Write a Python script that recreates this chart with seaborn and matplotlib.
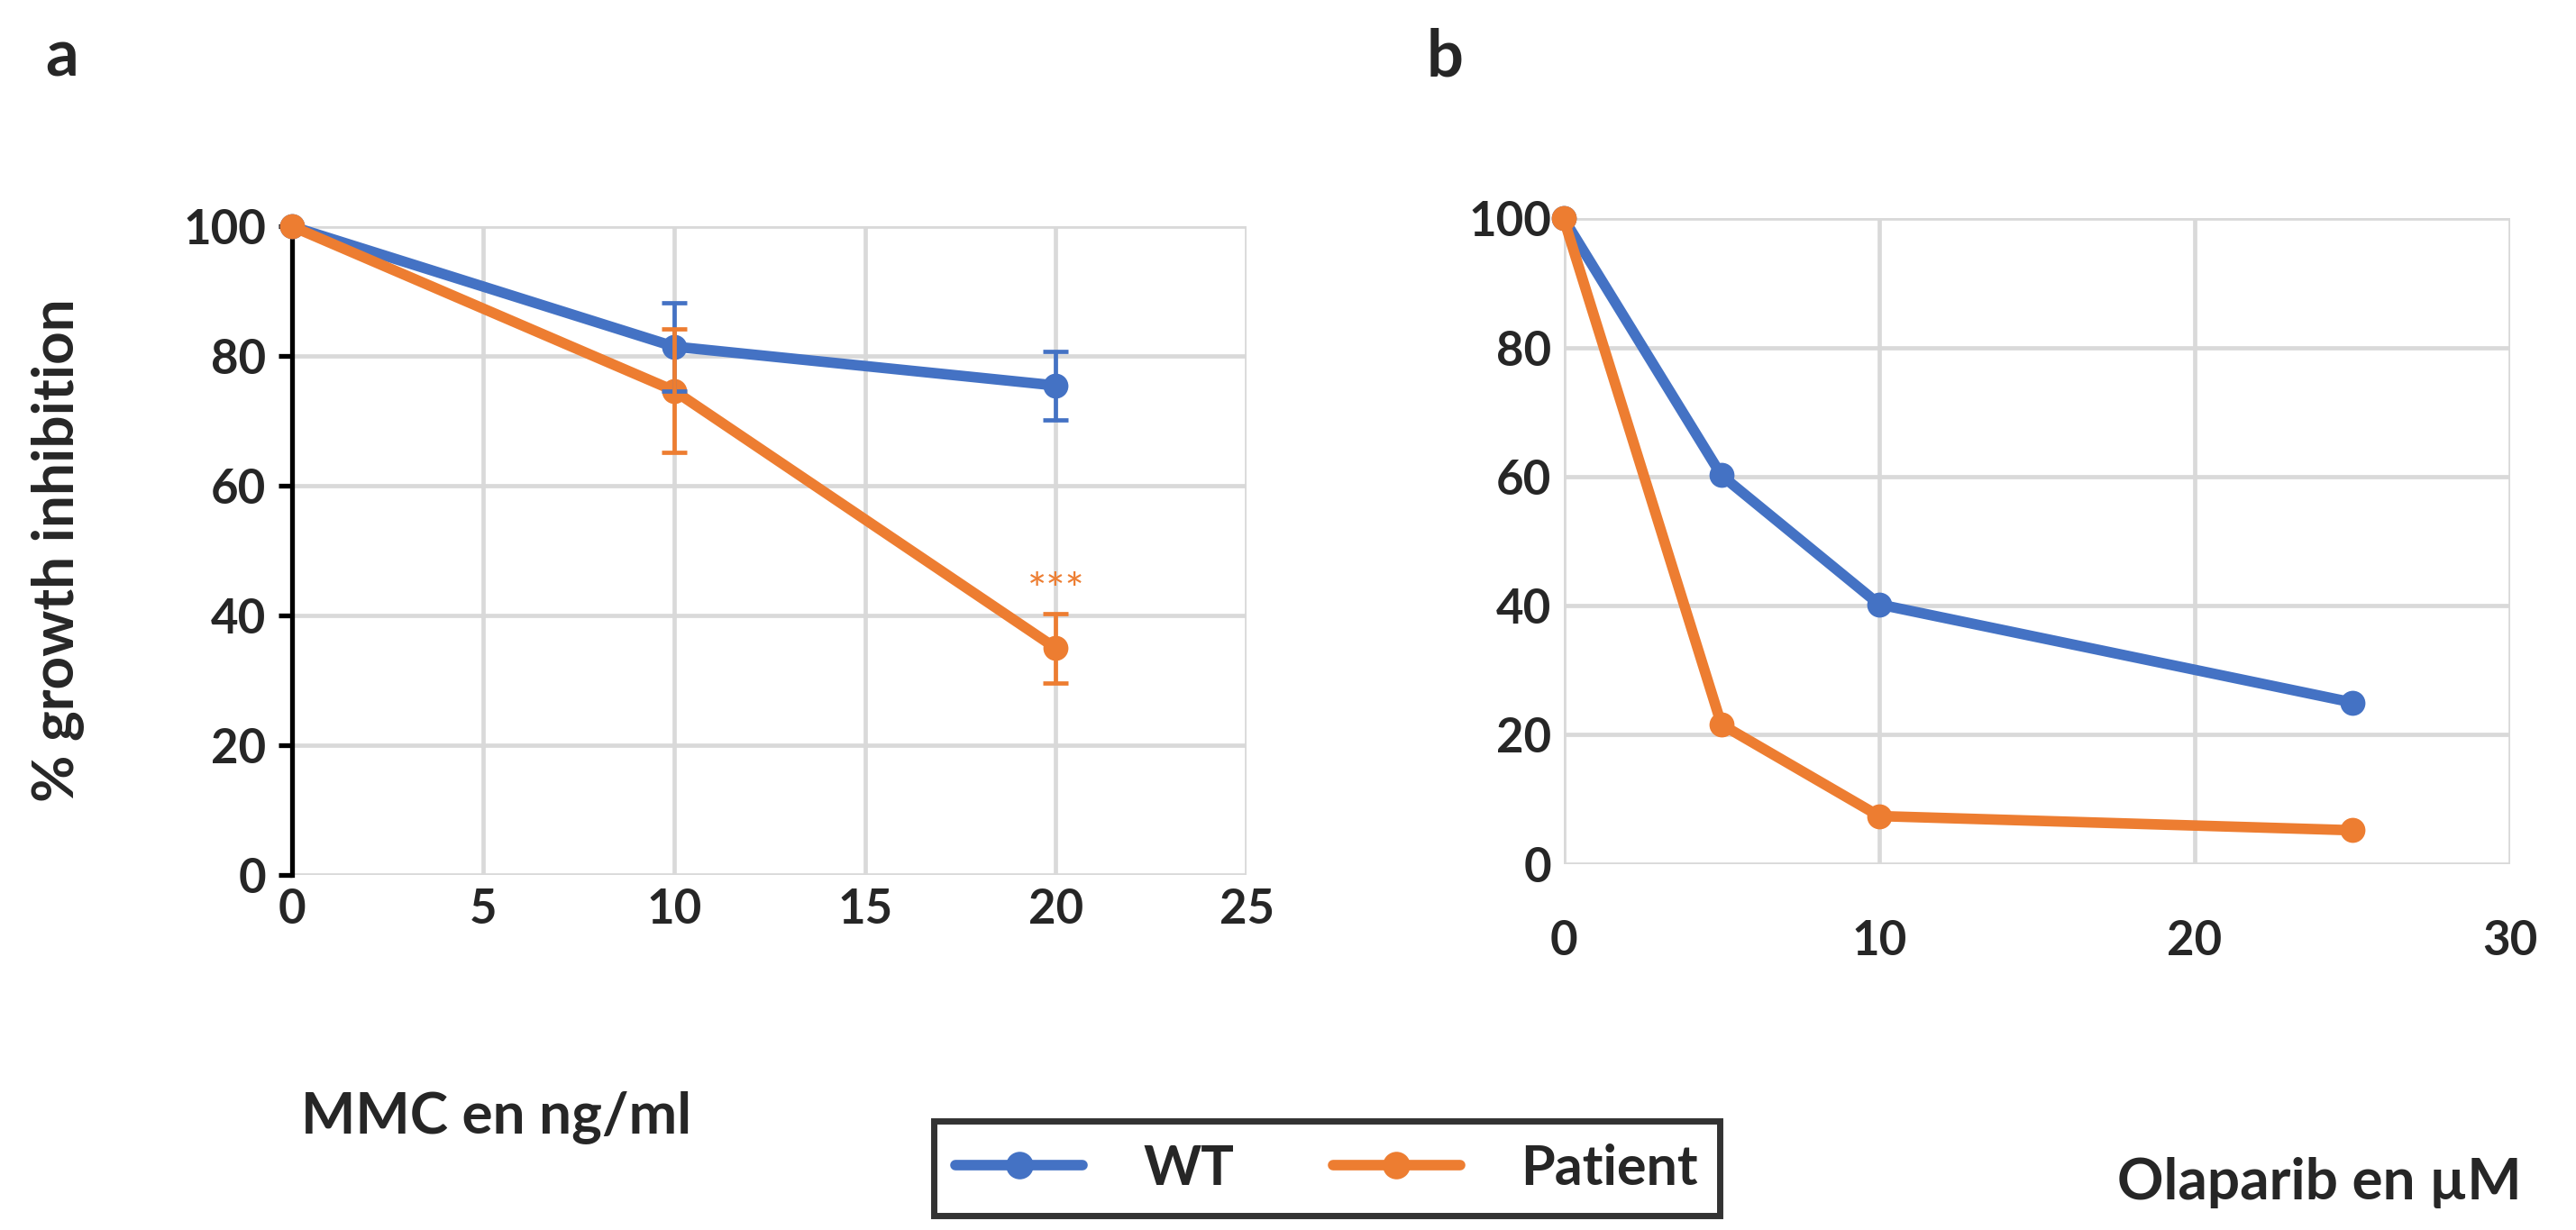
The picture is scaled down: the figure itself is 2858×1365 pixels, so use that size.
import matplotlib
matplotlib.use("Agg")
import matplotlib.pyplot as plt
import seaborn as sns
import pandas as pd
from matplotlib.lines import Line2D

sns.set_style("white")
plt.rcParams['font.family'] = ['Lato', 'DejaVu Sans']
plt.rcParams['font.weight'] = 'bold'

BLUE = "#4472C4"
ORANGE = "#ED7D31"
GRID = "#D9D9D9"

# Panel a data (MMC)
mmc_dose = [0, 10, 20]
mmc_wt = [100, 81.5, 75.5]
mmc_wt_err = [0, 6.8, 5.3]
mmc_pat = [100, 74.7, 35.0]
mmc_pat_err = [0, 9.5, 5.3]

# Panel b data (Olaparib)
ola_dose = [0, 5, 10, 25]
ola_wt = [100, 60.2, 40.2, 25.0]
ola_pat = [100, 21.6, 7.4, 5.2]

groups = ["WT", "Patient"]

df_a = pd.DataFrame({
    "dose": mmc_dose * 2,
    "value": mmc_wt + mmc_pat,
    "group": [groups[0]] * 3 + [groups[1]] * 3,
})
df_b = pd.DataFrame({
    "dose": ola_dose * 2,
    "value": ola_wt + ola_pat,
    "group": [groups[0]] * 4 + [groups[1]] * 4,
})

W, H = 2858, 1365
fig = plt.figure(figsize=(W / 200, H / 200), dpi=200)

ax_a = fig.add_axes([0.1135, 0.2884, 0.484 - 0.1135, 0.8158 - 0.2884])
ax_b = fig.add_axes([0.607, 0.2977, 0.9745 - 0.607, 0.8224 - 0.2977])

pal = {"WT": BLUE, "Patient": ORANGE}
LW = 4.2
MS = 10

for ax, df in [(ax_a, df_a), (ax_b, df_b)]:
    sns.lineplot(data=df, x="dose", y="value", hue="group", palette=pal,
                 marker="o", markersize=MS, markeredgewidth=0, linewidth=LW,
                 ax=ax, legend=False, zorder=3)

# error bars panel a
ax_a.errorbar(mmc_dose[1:], mmc_wt[1:], yerr=mmc_wt_err[1:], fmt="none",
              ecolor=BLUE, elinewidth=1.7, capsize=5, capthick=1.7, zorder=4)
ax_a.errorbar(mmc_dose[1:], mmc_pat[1:], yerr=mmc_pat_err[1:], fmt="none",
              ecolor=ORANGE, elinewidth=1.7, capsize=5, capthick=1.7, zorder=4)
ax_a.text(20, 43.5, "***", color=ORANGE, ha="center", va="center",
          fontsize=18, fontweight="normal")

# axes styling
ax_a.set_xlim(0, 25)
ax_a.set_ylim(0, 100)
ax_a.set_xticks([0, 5, 10, 15, 20, 25])
ax_a.set_yticks([0, 20, 40, 60, 80, 100])

ax_b.set_xlim(0, 30)
ax_b.set_ylim(0, 100)
ax_b.set_xticks([0, 10, 20, 30])
ax_b.set_yticks([0, 20, 40, 60, 80, 100])

for ax in (ax_a, ax_b):
    ax.set_xlabel("")
    ax.set_ylabel("")
    ax.grid(True, color=GRID, linewidth=1.7, zorder=0)
    ax.set_axisbelow(True)
    for s in ax.spines.values():
        s.set_visible(False)
    for l in ax.lines:
        l.set_clip_on(False)
    for t in ax.get_xticklabels() + ax.get_yticklabels():
        t.set_fontweight("bold")
        t.set_fontsize(19)

# panel a left spine black with outward ticks
ax_a.spines["left"].set_visible(True)
ax_a.spines["left"].set_color("black")
ax_a.spines["left"].set_linewidth(1.9)
ax_a.tick_params(axis="y", which="major", left=True, length=5.5, width=1.9,
                 color="black", pad=5, direction="out")
ax_a.tick_params(axis="x", length=0, pad=5)
ax_b.tick_params(axis="y", length=0, pad=5)
ax_b.tick_params(axis="x", length=0, pad=22)

# texts
fig.text(0.0223, 0.553, "% growth inhibition", rotation=90, ha="center",
         va="center", fontsize=23, fontweight="bold")
fig.text(0.1167, 0.092, "MMC en ng/ml", ha="left", va="center",
         fontsize=23, fontweight="bold")
fig.text(0.979, 0.0387, "Olaparib en µM", ha="right", va="center",
         fontsize=23, fontweight="bold")
fig.text(0.024, 0.953, "a", ha="center", va="center", fontsize=26,
         fontweight="bold")
fig.text(0.561, 0.953, "b", ha="center", va="center", fontsize=26,
         fontweight="bold")

handles = [
    Line2D([0], [0], color="#4472C4", marker="o", markersize=MS + 1,
           markeredgewidth=0, linewidth=LW, label="WT"),
    Line2D([0], [0], color=ORANGE, marker="o", markersize=MS + 1,
           markeredgewidth=0, linewidth=LW, label="Patient"),
]
leg = fig.legend(handles=handles, loc="center", bbox_to_anchor=(0.515, 0.05),
                 ncol=2, frameon=True, fancybox=False,
                 handlelength=2.3, handletextpad=1.1, columnspacing=1.8,
                 borderpad=0.4, prop={"weight": "bold", "size": 22})
leg.get_frame().set_edgecolor("black")
leg.get_frame().set_linewidth(2.5)

fig.savefig("out.png", dpi=200, facecolor="white")
